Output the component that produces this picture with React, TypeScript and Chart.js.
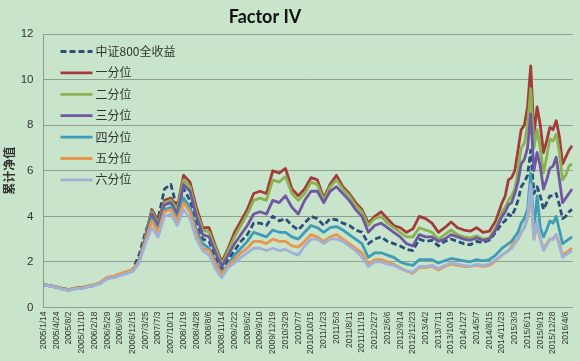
import React, { useEffect, useRef } from "react";
import { Chart, registerables } from "chart.js";

Chart.register(...registerables);

const TITLE = "Factor IV";
const Y_TITLE = "累计净值";

const seriesNames = ["中证800全收益", "一分位", "二分位", "三分位", "四分位", "五分位", "六分位"];
const seriesColors = ["#2b4f7c", "#a33c38", "#8cb153", "#7058a0", "#3f9cb6", "#e8964f", "#a0b1d8"];

const tickLabels = [
  "2005/1/14", "2005/4/24", "2005/8/2", "2005/11/10", "2006/2/18", "2006/5/29", "2006/9/6",
  "2006/12/15", "2007/3/25", "2007/7/3", "2007/10/11", "2008/1/19", "2008/4/28", "2008/8/6",
  "2008/11/14", "2009/2/22", "2009/6/2", "2009/9/10", "2009/12/19", "2010/3/29", "2010/7/7",
  "2010/10/15", "2011/1/23", "2011/5/3", "2011/8/11", "2011/11/19", "2012/2/27", "2012/6/6",
  "2012/9/14", "2012/12/23", "2013/4/2", "2013/7/11", "2013/10/19", "2014/1/27", "2014/5/7",
  "2014/8/15", "2014/11/23", "2015/3/3", "2015/6/11", "2015/9/19", "2015/12/28", "2016/4/6",
];

// days since 2005/1/14
const sampleDays = [
  0, 50, 100, 150, 200, 250, 300, 350, 400, 450, 500, 550, 600, 650,
  700, 750, 800, 850, 900, 950, 1000, 1050, 1100, 1150, 1200, 1250, 1300, 1350,
  1400, 1450, 1500, 1550, 1600, 1650, 1700, 1750, 1800, 1850, 1900, 1950, 2000, 2050,
  2100, 2150, 2200, 2250, 2300, 2350, 2400, 2450, 2500, 2550, 2600, 2650, 2700, 2750,
  2800, 2850, 2900, 2950, 3000, 3050, 3100, 3150, 3200, 3250, 3300, 3350, 3400, 3450,
  3500, 3550,
  3600, 3625, 3650, 3675, 3700, 3725, 3750, 3775, 3800, 3825, 3850, 3875, 3900, 3925,
  3950, 3975, 4000, 4025, 4050, 4075, 4100, 4125, 4150,
];

const csi800 = [
  1.0, 0.95, 0.9, 0.83, 0.77, 0.84, 0.86, 0.92, 0.97, 1.08, 1.26, 1.32, 1.42, 1.52,
  1.65, 2.3, 3.3, 4.1, 3.9, 5.2, 5.4, 4.3, 5.2, 4.7, 3.8, 3.0, 2.9, 2.2, 1.7, 2.1, 2.5, 2.9, 3.2, 3.7, 3.7,
  3.6, 4.0, 3.8, 3.9, 3.6, 3.4, 3.7, 4.0, 3.9, 3.6, 3.9, 3.85, 3.7, 3.6, 3.4, 3.3, 2.8, 3.0, 3.1, 2.9,
  2.8, 2.7, 2.55, 2.5, 3.0, 2.9, 2.95, 2.7, 2.9, 3.0, 2.9, 2.8, 2.75, 2.9, 2.85, 2.95, 3.3,
  3.7, 3.8, 4.1, 4.0, 4.3, 4.7, 5.3, 5.5, 5.8, 6.9, 5.0, 5.3, 4.9, 4.3, 4.6, 4.9, 4.9, 5.0, 4.5, 3.9, 4.0, 4.2, 4.3,
];
const q1 = [
  1.0, 0.96, 0.9, 0.83, 0.78, 0.85, 0.87, 0.93, 0.99, 1.1, 1.3, 1.35, 1.42, 1.52,
  1.62, 2.05, 3.1, 4.3, 3.8, 4.7, 4.8, 4.4, 5.8, 5.5, 4.4, 3.5, 3.5, 2.7, 2.0, 2.6, 3.3, 3.8, 4.3, 5.0, 5.1,
  5.0, 6.0, 5.9, 6.1, 5.2, 4.9, 5.2, 5.7, 5.6, 4.8, 5.4, 5.8, 5.3, 5.0, 4.6, 4.3, 3.7, 4.0, 4.2, 3.9,
  3.6, 3.5, 3.3, 3.45, 4.0, 3.9, 3.7, 3.3, 3.5, 3.75, 3.5, 3.4, 3.35, 3.5, 3.3, 3.35, 3.8,
  4.6, 4.9, 5.6, 5.7, 6.0, 6.9, 7.8, 8.0, 8.8, 10.6, 7.6, 8.8, 8.0, 6.8, 7.3, 7.9, 7.8, 8.2, 7.5, 6.3, 6.6, 6.9, 7.1,
];
const q2 = [
  1.0, 0.96, 0.9, 0.84, 0.79, 0.85, 0.87, 0.94, 1.0, 1.12, 1.3, 1.36, 1.44, 1.54,
  1.62, 2.05, 3.1, 4.2, 3.7, 4.6, 4.7, 4.3, 5.6, 5.3, 4.2, 3.4, 3.3, 2.6, 1.9, 2.5, 3.1, 3.6, 4.1, 4.7, 4.8,
  4.7, 5.6, 5.5, 5.75, 5.0, 4.7, 5.0, 5.5, 5.4, 4.7, 5.3, 5.6, 5.2, 4.9, 4.5, 4.2, 3.6, 3.9, 4.0, 3.7,
  3.5, 3.3, 3.1, 3.1, 3.5, 3.4, 3.3, 3.0, 3.2, 3.4, 3.2, 3.1, 3.05, 3.15, 3.0, 3.05, 3.5,
  4.2, 4.4, 4.7, 4.9, 5.2, 6.0, 7.0, 7.2, 8.0, 9.6, 7.0, 7.8, 7.0, 5.9, 6.6, 7.4, 7.3, 7.6, 6.8, 5.6, 5.8, 6.2, 6.3,
];
const q3 = [
  1.0, 0.95, 0.89, 0.82, 0.77, 0.84, 0.86, 0.92, 0.98, 1.1, 1.28, 1.34, 1.42, 1.5,
  1.6, 2.0, 3.0, 4.1, 3.6, 4.5, 4.6, 4.1, 5.4, 5.1, 4.0, 3.2, 3.1, 2.4, 1.8, 2.3, 2.8, 3.2, 3.6, 4.1, 4.2,
  4.1, 4.7, 4.6, 4.9, 4.4, 4.1, 4.7, 5.1, 5.1, 4.6, 5.1, 5.3, 5.0, 4.7, 4.3, 4.0, 3.3, 3.6, 3.7, 3.5,
  3.3, 3.1, 2.8, 2.7, 3.2, 3.1, 3.1, 2.9, 3.0, 3.2, 3.1, 3.0, 2.95, 3.05, 2.95, 3.0, 3.4,
  4.0, 4.2, 4.5, 4.6, 5.0, 5.5, 6.3, 6.5, 7.0, 8.5, 6.0, 6.8, 6.2, 5.2, 5.6, 6.1, 6.2, 6.6, 5.6, 4.6, 4.8, 5.0, 5.2,
];
const q4 = [
  1.0, 0.95, 0.88, 0.81, 0.76, 0.83, 0.85, 0.92, 0.98, 1.1, 1.28, 1.35, 1.44, 1.54,
  1.6, 2.0, 2.9, 3.9, 3.4, 4.3, 4.4, 3.9, 4.8, 4.4, 3.4, 2.8, 2.6, 2.0, 1.5, 1.9, 2.3, 2.6, 2.9, 3.3, 3.2,
  3.1, 3.4, 3.3, 3.3, 3.1, 3.0, 3.3, 3.6, 3.5, 3.3, 3.5, 3.55, 3.4, 3.2, 3.0, 2.8, 2.2, 2.4, 2.4, 2.3,
  2.2, 2.0, 1.9, 1.85, 2.1, 2.1, 2.1, 1.95, 2.05, 2.15, 2.1, 2.05, 2.0, 2.1, 2.05, 2.1, 2.3,
  2.6, 2.7, 2.8, 2.9, 3.1, 3.3, 3.7, 3.9, 4.3, 5.9, 3.4, 4.9, 3.5, 3.1, 3.4, 3.8, 3.7, 4.0, 3.4, 2.8, 2.9, 3.0, 3.1,
];
const q5 = [
  1.0, 0.95, 0.89, 0.82, 0.77, 0.84, 0.86, 0.93, 1.0, 1.12, 1.32, 1.38, 1.48, 1.58,
  1.66, 2.0, 2.9, 3.8, 3.3, 4.2, 4.3, 3.8, 4.6, 4.2, 3.2, 2.6, 2.5, 1.9, 1.45, 1.85, 2.1, 2.4, 2.6, 2.9, 2.9,
  2.8, 3.0, 2.9, 2.9, 2.7, 2.65, 2.9, 3.2, 3.1, 2.9, 3.1, 3.2, 3.0, 2.8, 2.6, 2.4, 1.9, 2.1, 2.1, 2.0,
  1.9, 1.75, 1.6, 1.5, 1.75, 1.75, 1.8, 1.65, 1.8, 1.9, 1.85, 1.8, 1.8, 1.85, 1.8, 1.85, 2.05,
  2.3, 2.4, 2.5, 2.7, 2.9, 3.0, 3.3, 3.5, 3.9, 5.1, 3.0, 3.6, 3.0, 2.6, 2.8, 3.0, 3.0, 3.2, 2.8, 2.3, 2.4, 2.5, 2.6,
];
const q6 = [
  1.0, 0.94, 0.88, 0.8, 0.75, 0.82, 0.84, 0.9, 0.96, 1.08, 1.26, 1.32, 1.4, 1.5,
  1.58, 1.95, 2.8, 3.5, 3.1, 4.0, 4.1, 3.6, 4.3, 3.9, 3.0, 2.5, 2.3, 1.7, 1.3, 1.75, 1.95, 2.2, 2.4, 2.6, 2.6,
  2.5, 2.6, 2.5, 2.55, 2.4, 2.3, 2.7, 3.0, 3.0, 2.8, 3.0, 3.0, 2.9, 2.7, 2.5, 2.2, 1.8, 2.0, 2.0, 1.9,
  1.85, 1.7, 1.6, 1.55, 1.8, 1.8, 1.85, 1.7, 1.85, 1.95, 1.9, 1.85, 1.8, 1.9, 1.85, 1.9, 2.1,
  2.3, 2.4, 2.5, 2.6, 2.8, 3.0, 3.3, 3.5, 4.0, 5.4, 3.0, 3.8, 3.0, 2.5, 2.7, 3.0, 3.0, 3.2, 2.7, 2.2, 2.3, 2.4, 2.5,
];

const seriesValues = [csi800, q1, q2, q3, q4, q5, q6];

const BG = "#c8e5cb";
const GRID = "#8f9f91";
const TEXT = "#333333";

const overlayPlugin = {
  id: "overlay",
  afterDatasetsDraw(chart: any) {
    const { ctx, chartArea } = chart;
    ctx.save();
    const lx = chartArea.left + 17;
    const ly = chartArea.top + 17.5;
    chart.data.datasets.forEach((ds: any, i: number) => {
      const y = ly + i * 21.4;
      ctx.strokeStyle = ds.borderColor;
      ctx.lineWidth = 2.8;
      ctx.setLineDash(ds.borderDash || []);
      ctx.beginPath();
      ctx.moveTo(lx, y);
      ctx.lineTo(lx + 32, y);
      ctx.stroke();
      ctx.setLineDash([]);
      ctx.fillStyle = TEXT;
      ctx.font = '12px "Noto Sans CJK SC"';
      ctx.textAlign = "left";
      ctx.textBaseline = "middle";
      ctx.fillText(ds.label, lx + 35, y);
    });
    ctx.fillStyle = "#111111";
    ctx.font = 'bold 18px Lato';
    ctx.textAlign = "center";
    ctx.textBaseline = "middle";
    ctx.fillText(TITLE, 265, 17);
    ctx.restore();
  },
};

export default function App() {
  const ref = useRef<HTMLCanvasElement | null>(null);

  useEffect(() => {
    document.body.style.margin = "0";
    document.body.style.background = BG;
    const datasets = seriesNames.map((name, i) => ({
      label: name,
      data: sampleDays.map((d, k) => ({ x: d, y: seriesValues[i][k] })),
      borderColor: seriesColors[i],
      backgroundColor: seriesColors[i],
      borderWidth: 2.8,
      borderDash: i === 0 ? [6, 3] : [],
      pointRadius: 0,
      tension: 0,
      fill: false,
      order: -i,
      borderJoinStyle: "round" as const,
    }));
    const chart = new Chart(ref.current as HTMLCanvasElement, {
      type: "line",
      data: { datasets },
      options: {
        animation: false,
        responsive: true,
        maintainAspectRatio: false,
        layout: { padding: { top: 34, right: 3, left: 0, bottom: 0 } },
        plugins: { legend: { display: false }, title: { display: false }, tooltip: { enabled: false } },
        scales: {
          x: {
            type: "linear",
            min: 0,
            max: 4155,
            grid: { display: false, drawTicks: false },
            border: { display: true, color: GRID, width: 1 },
            afterBuildTicks: (scale: any) => {
              scale.ticks = tickLabels.map((_, i) => ({ value: i * 100 }));
            },
            afterFit: (scale: any) => {
              scale.height = 53.5;
            },
            ticks: {
              autoSkip: false,
              maxRotation: 90,
              minRotation: 90,
              padding: 4,
              color: TEXT,
              font: { family: "Liberation Sans", size: 8.5 },
              callback: (value: any) => tickLabels[Math.round(Number(value) / 100)],
            },
          },
          y: {
            min: 0,
            max: 12,
            grid: { color: GRID, lineWidth: 1, drawTicks: false },
            border: { display: true, color: GRID, width: 1 },
            afterFit: (scale: any) => {
              scale.width = 43.5;
            },
            ticks: {
              stepSize: 2,
              padding: 10,
              color: TEXT,
              font: { family: "Liberation Sans", size: 11.5 },
            },
            title: {
              display: true,
              text: Y_TITLE,
              color: TEXT,
              padding: { top: 2, bottom: 0 },
              font: { family: "Noto Sans CJK SC", size: 12, weight: "bold" },
            },
          },
        },
      },
      plugins: [overlayPlugin],
    });
    return () => chart.destroy();
  }, []);

  return (
    <div style={{ position: "fixed", left: 0, top: 0, width: 580, height: 361, background: BG }}>
      <canvas ref={ref} />
    </div>
  );
}
